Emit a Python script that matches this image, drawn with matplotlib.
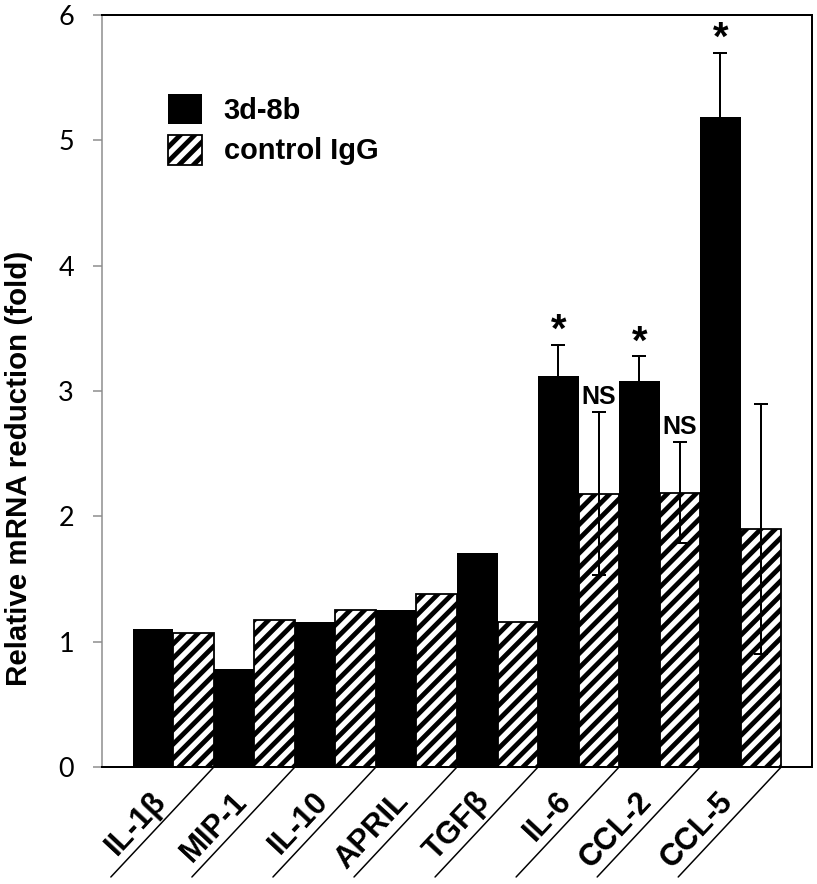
import matplotlib
matplotlib.use('Agg')
import matplotlib.pyplot as plt
import numpy as np

# ---- data ----
categories = ['IL-1β', 'MIP-1', 'IL-10', 'APRIL', 'TGFβ', 'IL-6', 'CCL-2', 'CCL-5']
series_names = ['3d-8b', 'control IgG']
treat_vals = [1.10, 0.78, 1.16, 1.25, 1.71, 3.12, 3.08, 5.19]
treat_err = [0, 0, 0, 0, 0, 0.25, 0.20, 0.51]
ctrl_vals = [1.07, 1.17, 1.25, 1.38, 1.16, 2.18, 2.19, 1.90]
ctrl_err = [0, 0, 0, 0, 0, 0.65, 0.40, 1.00]
treat_marks = ['', '', '', '', '', '*', '*', '*']
ctrl_marks = ['', '', '', '', '', 'NS', 'NS', '']
yticks = [0, 1, 2, 3, 4, 5, 6]
ylabel = 'Relative mRNA reduction (fold)'

DPI = 86
def P(px):
    return px * 72.0 / DPI

plt.rcParams['hatch.linewidth'] = P(4.8)
plt.rcParams['hatch.color'] = 'black'

fig = plt.figure(figsize=(817 / DPI, 884 / DPI), dpi=DPI)
W, H = 817, 884
ax = fig.add_axes([102 / W, 1 - 767 / H, (812 - 102) / W, (767 - 15) / H])

x = np.arange(len(categories))
bw = 0.5
b1 = ax.bar(x - bw / 2, treat_vals, bw, color='black', edgecolor='black', linewidth=0, zorder=2)
b2 = ax.bar(x + bw / 2, ctrl_vals, bw, color='white', edgecolor='black', hatch='//',
            linewidth=P(1.8), zorder=2)

# error bars (only where given)
for i in range(len(categories)):
    if treat_err[i] > 0:
        ax.errorbar(x[i] - bw / 2, treat_vals[i], yerr=treat_err[i], fmt='none', ecolor='black',
                    elinewidth=P(2), capsize=P(7), capthick=P(2), zorder=3)
    if ctrl_err[i] > 0:
        ax.errorbar(x[i] + bw / 2, ctrl_vals[i], yerr=ctrl_err[i], fmt='none', ecolor='black',
                    elinewidth=P(2), capsize=P(7), capthick=P(2), zorder=3)

# significance marks
for i in range(len(categories)):
    if treat_marks[i]:
        ax.text(x[i] - bw / 2, treat_vals[i] + treat_err[i] + 0.02, treat_marks[i],
                ha='center', va='baseline', fontsize=P(40), fontweight='bold',
                family='Liberation Sans', zorder=4)
    if ctrl_marks[i]:
        ax.text(x[i] + bw / 2, ctrl_vals[i] + ctrl_err[i] + 0.07, ctrl_marks[i],
                ha='center', va='baseline', fontsize=P(25), fontweight='bold',
                family='Liberation Sans', zorder=4)

ax.set_xlim(-0.5 - 0.38, len(categories) - 0.5 + 0.38)
ax.set_ylim(0, 6)
ax.set_yticks(yticks)
ax.set_yticklabels([str(t) for t in yticks], family='Lato', fontsize=P(27))
ax.tick_params(axis='y', direction='out', length=P(9), width=P(1.5), color='#8c8c8c', pad=P(19))
ax.set_xticks([])

for s in ['top', 'right', 'bottom']:
    ax.spines[s].set_color('black')
    ax.spines[s].set_linewidth(P(2))
ax.spines['left'].set_color('#8c8c8c')
ax.spines['left'].set_linewidth(P(1.5))

ax.set_ylabel(ylabel, fontsize=P(29.5), fontweight='bold', family='Liberation Sans')
ax.yaxis.set_label_coords((33 - 102) / 710, (767 - 468) / 752)

# category labels and slanted separators
for i, lab in enumerate(categories):
    ax.annotate('', xy=(x[i] + 0.5, 0), xycoords='data', xytext=(-103, -110),
                textcoords='offset pixels',
                arrowprops=dict(arrowstyle='-', lw=P(1.5), color='black', shrinkA=0, shrinkB=0),
                annotation_clip=False)
    ax.annotate(lab, xy=(x[i] + 0.5, 0), xycoords='data', xytext=(-47, -35),
                textcoords='offset pixels', rotation=47, rotation_mode='anchor',
                ha='right', va='baseline', fontsize=P(31), fontweight='bold',
                family='Liberation Sans', annotation_clip=False)

leg = ax.legend([b1, b2], series_names, loc='upper left',
                bbox_to_anchor=((168 - 102) / 710, 1 - (94 - 15) / 752),
                frameon=False, borderpad=0, borderaxespad=0,
                handlelength=1.17, handleheight=1.2, handletextpad=0.75, labelspacing=0.35,
                prop={'family': 'Liberation Sans', 'weight': 'bold', 'size': P(29)})

fig.savefig('out.png', dpi=DPI)
